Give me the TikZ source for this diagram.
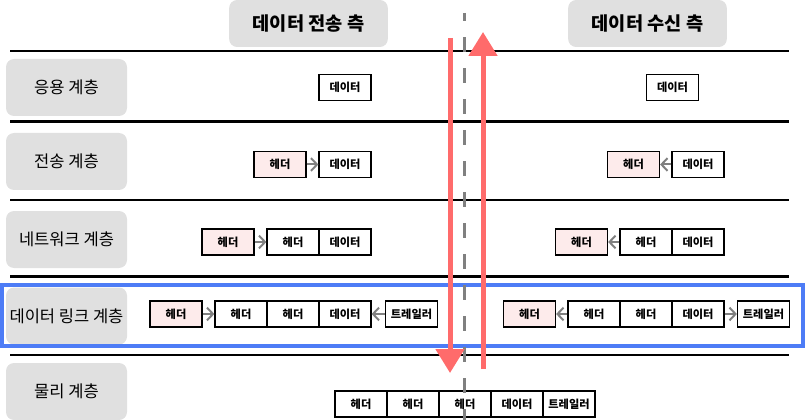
\documentclass[tikz,border=0pt]{standalone}
\usepackage{fontspec}
\setmainfont{Noto Sans CJK KR}
\usetikzlibrary{arrows.meta}
\definecolor{labelgray}{RGB}{224,224,224}
\definecolor{hdrpink}{RGB}{253,235,235}
\definecolor{flowred}{RGB}{255,107,107}
\definecolor{linkblue}{RGB}{77,124,246}
\tikzset{
  sidebox/.style={fill=labelgray, rounded corners=6pt, minimum width=119pt, minimum height=35.25pt, inner sep=0pt, font=\fontsize{14}{16}\selectfont\bfseries},
  layerbox/.style={fill=labelgray, rounded corners=6pt, minimum width=90.75pt, minimum height=42.75pt, inner sep=0pt, font=\fontsize{12.4}{14}\selectfont},
  pkt/.style={draw=black, line width=0.9pt, minimum width=39pt, minimum height=19.5pt, inner sep=0pt, font=\fontsize{8.4}{10}\selectfont\bfseries},
  hdr/.style={pkt, fill=hdrpink},
  encap/.style={draw=black!50, line width=1.5pt, -{Straight Barb[length=4.5pt,width=9.5pt]}},
  flow/.style={draw=flowred, line width=3.75pt, -{Triangle[length=18pt,width=21pt]}}
}

\begin{document}
\begin{tikzpicture}[x=0.75pt,y=-0.75pt]
\useasboundingbox (0,0) rectangle (805,420);
\draw[line width=2pt] (10,51) -- (789,51);
\draw[line width=2pt] (10,121.5) -- (789,121.5);
\draw[line width=2pt] (10,200) -- (789,200);
\draw[line width=2pt] (10,276.5) -- (789,276.5);
\draw[line width=2pt] (10,355) -- (789,355);
\node[sidebox] (sendside) at (308.5,23.5) {데이터 전송 측};
\node[sidebox] (recvside) at (647.5,23.5) {데이터 수신 측};
\node[layerbox] (app) at (66.5,87.5) {응용 계층};
\node[layerbox] (trans) at (66.5,161.5) {전송 계층};
\node[layerbox] (net) at (66.5,239.5) {네트워크 계층};
\node[layerbox] (link) at (66.5,316) {데이터 링크 계층};
\node[layerbox] (phys) at (66.5,391.5) {물리 계층};
\draw[linkblue, line width=3pt] (2,285) rectangle (803,346);
\node[pkt] (s1d) at (345,87.5) {데이터};
\node[hdr] (s2h) at (280,164.5) {헤더};
\node[pkt] (s2d) at (345,164.5) {데이터};
\node[hdr] (s3h) at (228,242) {헤더};
\node[pkt] (s3h2) at (293,242) {헤더};
\node[pkt] (s3d) at (345,242) {데이터};
\node[hdr] (s4h) at (176,314) {헤더};
\node[pkt] (s4h2) at (241,314) {헤더};
\node[pkt] (s4h3) at (293,314) {헤더};
\node[pkt] (s4d) at (345,314) {데이터};
\node[pkt] (s4t) at (411.5,314) {트레일러};
\node[pkt] (r1d) at (672.5,87.5) {데이터};
\node[hdr] (r2h) at (633.5,164.5) {헤더};
\node[pkt] (r2d) at (698,164.5) {데이터};
\node[hdr] (r3h) at (581.5,242) {헤더};
\node[pkt] (r3h2) at (646,242) {헤더};
\node[pkt] (r3d) at (698,242) {데이터};
\node[hdr] (r4h) at (529.5,314) {헤더};
\node[pkt] (r4h2) at (594,314) {헤더};
\node[pkt] (r4h3) at (646,314) {헤더};
\node[pkt] (r4d) at (698,314) {데이터};
\node[pkt] (r4t) at (763.5,314) {트레일러};
\node[pkt] (p1) at (361,404) {헤더};
\node[pkt] (p2) at (413,404) {헤더};
\node[pkt] (p3) at (465,404) {헤더};
\node[pkt] (p4) at (517,404) {데이터};
\node[pkt] (p5) at (569,404) {트레일러};
\draw[encap] (s2h) -- (s2d);
\draw[encap] (s3h) -- (s3h2);
\draw[encap] (s4h) -- (s4h2);
\draw[encap] (s4t) -- (s4d);
\draw[encap] (r2d) -- (r2h);
\draw[encap] (r3h2) -- (r3h);
\draw[encap] (r4h2) -- (r4h);
\draw[encap] (r4d) -- (r4t);
\draw[black!50, line width=2.25pt, dash pattern=on 11.25pt off 12pt, dash phase=5pt] (464,13) -- (464,420);
\coordinate (downtop) at (450,38);
\coordinate (downend) at (450,373);
\coordinate (upbase) at (483,369);
\coordinate (uptip) at (483,32);
\draw[flow] (downtop) -- (downend);
\draw[flow] (upbase) -- (uptip);
\end{tikzpicture}
\end{document}
